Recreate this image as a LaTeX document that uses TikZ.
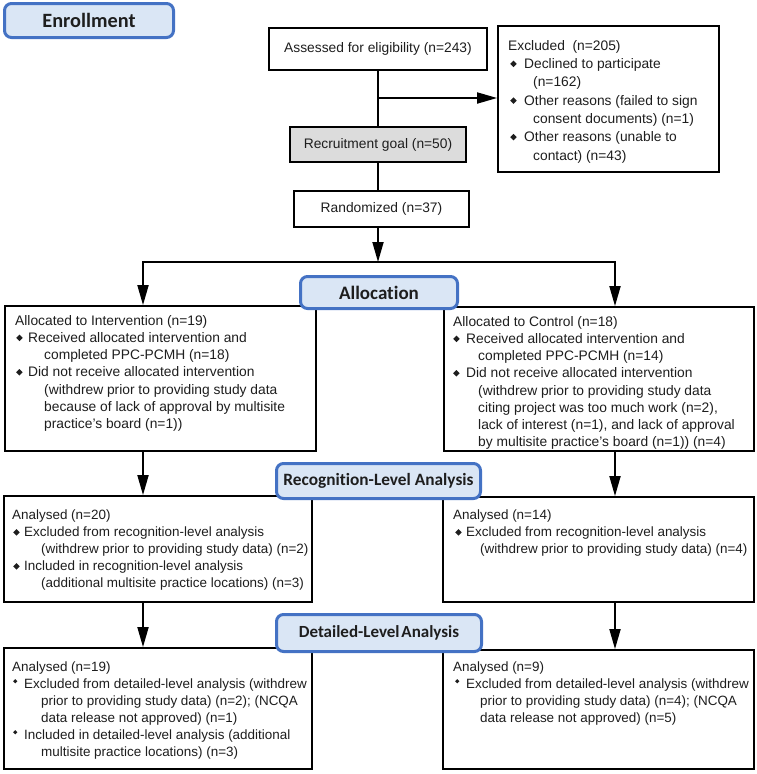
\documentclass[tikz,border=0pt]{standalone}
\usepackage{fontspec}
\usepackage{graphicx}
\setmainfont{Liberation Sans}
\newfontfamily\hdfont[Ligatures=NoCommon]{Carlito}
\usetikzlibrary{arrows.meta}
\definecolor{hdblue}{RGB}{68,114,196}
\definecolor{hdfill}{RGB}{218,230,245}
\definecolor{txt}{RGB}{30,30,30}
\definecolor{goalgray}{RGB}{220,220,220}
\newcommand{\dia}{\raisebox{1.3pt}{\rotatebox{45}{\rule{4.6pt}{4.6pt}}}}
\newcommand{\sdia}{\raisebox{5.6pt}{\rotatebox{45}{\rule{3pt}{3pt}}}}
\newcommand{\itm}[2]{\makebox[#2][l]{\hspace{#1}\dia}}
\newcommand{\sitm}[2]{\makebox[#2][l]{\hspace{#1}\sdia}}
\newcommand{\cnt}[1]{\hspace*{#1}}
\begin{document}
\begin{tikzpicture}[x=1pt,y=-1pt,
  box/.style={draw=black, line width=1.8pt, fill=white, inner sep=0pt, text=txt, font=\fontsize{13.8}{17.2}\selectfont},
  hdr/.style={draw=hdblue, line width=3pt, fill=hdfill, rounded corners=7pt, text=txt, inner sep=0pt},
  lst/.style={anchor=north west, inner sep=0pt, align=left, text=txt, font=\fontsize{13.8}{17.2}\selectfont},
  lsts/.style={lst, font=\fontsize{13.45}{17}\selectfont},
  arr/.style={line width=1.8pt, -{Triangle[length=20pt,width=11pt]}},
  ln/.style={line width=1.8pt}]
\useasboundingbox (0,0) rectangle (757,774);

% boxes
\node[box, minimum width=218pt, minimum height=42pt] (assess) at (378,49) {Assessed for eligibility (n=243)};
\node[box, minimum width=221pt, minimum height=146pt] (excl) at (608.5,99) {};
\node[box, fill=goalgray, minimum width=176pt, minimum height=35pt] (recruit) at (378,144.5) {Recruitment goal (n=50)};
\node[box, minimum width=175pt, minimum height=36pt] (rand) at (381.5,209) {Randomized (n=37)};
\node[box, minimum width=311pt, minimum height=145pt] (int) at (160.5,378.5) {};
\node[box, minimum width=310pt, minimum height=144pt] (ctl) at (599,379) {};
\node[box, minimum width=308pt, minimum height=106pt] (recL) at (158,549) {};
\node[box, minimum width=311pt, minimum height=105pt] (recR) at (598.5,549.5) {};
\node[box, minimum width=308pt, minimum height=121pt] (detL) at (158,708.5) {};
\node[box, minimum width=311pt, minimum height=119pt] (detR) at (598.5,709.5) {};

% box texts
\node[lst, font=\fontsize{13.8}{18.3}\selectfont] (exclT) at (508,40) {Excluded\ \ (n=205)\\
\itm{2pt}{16pt}Declined to participate\\
\cnt{25pt}(n=162)\\
\itm{2pt}{16pt}Other reasons (failed to sign\\
\cnt{25pt}consent documents) (n=1)\\
\itm{2pt}{16pt}Other reasons (unable to\\
\cnt{25pt}contact) (n=43)};

\node[lst] (intT) at (15,315) {Allocated to Intervention (n=19)\\
\itm{1pt}{13pt}Received allocated intervention and\\
\cnt{29pt}completed PPC-PCMH (n=18)\\
\itm{1pt}{13pt}Did not receive allocated intervention\\
\cnt{29pt}(withdrew prior to providing study data\\
\cnt{29pt}because of lack of approval by multisite\\
\cnt{29pt}practice’s board (n=1))};

\node[lst] (ctlT) at (453,316) {Allocated to Control (n=18)\\
\itm{0pt}{13pt}Received allocated intervention and\\
\cnt{25pt}completed PPC-PCMH (n=14)\\
\itm{0pt}{13pt}Did not receive allocated intervention\\
\cnt{25pt}(withdrew prior to providing study data\\
\cnt{25pt}citing project was too much work (n=2),\\
\cnt{25pt}lack of interest (n=1), and lack of approval\\
\cnt{25pt}by multisite practice’s board (n=1)) (n=4)};

\node[lsts] (recLT) at (12,510) {Analysed (n=20)\\
\itm{1pt}{12pt}Excluded from recognition-level analysis\\
\cnt{29pt}(withdrew prior to providing study data) (n=2)\\
\itm{1pt}{12pt}Included in recognition-level analysis\\
\cnt{29pt}(additional multisite practice locations) (n=3)};

\node[lsts] (recRT) at (453,510) {Analysed (n=14)\\
\itm{2pt}{13pt}Excluded from recognition-level analysis\\
\cnt{27pt}(withdrew prior to providing study data) (n=4)};

\node[lsts] (detLT) at (12,662) {Analysed (n=19)\\
\sitm{1pt}{12pt}Excluded from detailed-level analysis (withdrew\\
\cnt{29pt}prior to providing study data) (n=2); (NCQA\\
\cnt{29pt}data release not approved) (n=1)\\
\sitm{1pt}{12pt}Included in detailed-level analysis (additional\\
\cnt{29pt}multisite practice locations) (n=3)};

\node[lsts] (detRT) at (453,662) {Analysed (n=9)\\
\sitm{2pt}{13pt}Excluded from detailed-level analysis (withdrew\\
\cnt{27pt}prior to providing study data) (n=4); (NCQA\\
\cnt{27pt}data release not approved) (n=5)};

% connectors
\coordinate (br) at (378,98);
\coordinate (split) at (378,262);
\coordinate (lA) at (143,262);
\coordinate (rA) at (615,262);
\draw[ln] (assess.south) -- (recruit.north);
\draw[arr] (br) -- (br -| excl.west);
\draw[ln] (recruit.south) -- (recruit.south |- rand.north);
\draw[arr] (recruit.south |- rand.south) -- (split);
\draw[arr] (split) -| (int.north -| lA);
\draw[arr] (split) -| (ctl.north -| rA);
\draw[arr] (int.south -| lA) -- (recL.north -| lA);
\draw[arr] (ctl.south -| rA) -- (recR.north -| rA);
\draw[arr] (recL.south -| lA) -- (detL.north -| lA);
\draw[arr] (recR.south -| rA) -- (detR.north -| rA);

% headers
\node[hdr, font=\hdfont\bfseries\fontsize{20.3}{22}\selectfont, minimum width=169pt, minimum height=34pt] (enr) at (89,20.5) {Enrollment};
\node[hdr, font=\hdfont\bfseries\fontsize{19}{22}\selectfont, minimum width=157pt, minimum height=32pt] (alloc) at (379,292.5) {Allocation};
\node[hdr, font=\hdfont\bfseries\fontsize{17.3}{22}\selectfont, minimum width=204pt, minimum height=35pt] (rec) at (378.5,481) {Recognition-Level Analysis};
\node[hdr, font=\hdfont\bfseries\fontsize{17}{22}\selectfont, minimum width=205pt, minimum height=37pt] (det) at (379,633) {Detailed-Level\hspace{-2pt} Analysis};
\end{tikzpicture}
\end{document}
